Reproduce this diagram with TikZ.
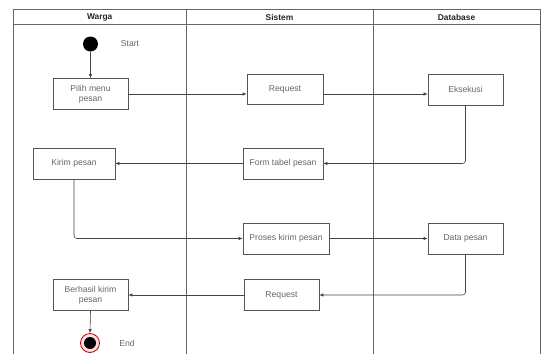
\documentclass[tikz,border=0pt]{standalone}
\usepackage{fontspec}
\setmainfont{Liberation Sans}
\usetikzlibrary{arrows.meta}

\definecolor{lanec}{HTML}{666666}
\definecolor{boxc}{HTML}{555555}
\definecolor{txtc}{HTML}{666666}
\definecolor{linec}{HTML}{444444}

\tikzset{
  lane/.style={draw=lanec, line width=1pt},
  act/.style={draw=boxc, line width=0.7pt, fill=white, text=txtc, font=\fontsize{8.6}{10}\selectfont,
    align=center, inner sep=0pt, minimum height=31pt},
  hdr/.style={font=\bfseries\fontsize{8.4}{10}\selectfont, text=black!85},
  lbl/.style={font=\fontsize{8.6}{10}\selectfont, text=txtc},
  flow/.style={draw=linec, line width=0.6pt, -{Latex[length=4pt,width=3.5pt]}},
}

\begin{document}
\begin{tikzpicture}[x=1pt,y=-1pt]
\useasboundingbox (0,0) rectangle (541,354);

% swimlane frame
\draw[lane] (13.5,354) -- (13.5,9.5) -- (540,9.5) -- (540,354);
\draw[lane] (13.5,24.5) -- (540,24.5);
\draw[lane] (186,9.5) -- (186,354);
\draw[lane] (373,9.5) -- (373,354);

\node[hdr] (hwarga) at (99.7,17.5) {Warga};
\node[hdr] (hsistem) at (279.5,17.5) {Sistem};
\node[hdr] (hdb) at (456.5,17.5) {Database};

% start and end states
\node[circle, fill=black, minimum size=15pt, inner sep=0pt] (start) at (90.5,44) {};
\node[lbl] (startlbl) at (130,44) {Start};

\node[circle, draw=red!75!black, fill=red!12, line width=0.8pt, minimum size=19pt, inner sep=0pt] (end) at (90,343) {};
\node[circle, fill=black, minimum size=12pt, inner sep=0pt] (endin) at (90,343) {};
\node[lbl] (endlbl) at (127,343) {End};

% activities
\node[act, minimum width=75pt] (pilih) at (90.5,94) {Pilih menu\\pesan};
\node[act, minimum width=76pt, minimum height=30pt] (req1) at (285,89) {Request};
\node[act, minimum width=75pt] (eks) at (465.5,89.5) {Eksekusi};
\node[act, minimum width=82pt] (kirim) at (74,163.5) {Kirim pesan};
\node[act, minimum width=80pt] (form) at (283,163.5) {Form tabel pesan};
\node[act, minimum width=86pt] (proses) at (286,238.5) {Proses kirim pesan};
\node[act, minimum width=75pt] (data) at (465.5,238.5) {Data pesan};
\node[act, minimum width=75pt] (req2) at (281.5,295) {Request};
\node[act, minimum width=75pt] (berhasil) at (90.5,295) {Berhasil kirim\\pesan};

% control flow
\draw[flow] (start) -- (pilih.north);
\draw[flow] (pilih.east) -- (pilih.east -| req1.west);
\draw[flow] (req1.east |- pilih.east) -- (pilih.east -| eks.west);
\draw[flow, rounded corners=3pt] (eks.south) |- (form.east);
\draw[flow] (form.west) -- (kirim.east);
\draw[flow, rounded corners=3pt] (kirim.south) |- (proses.west);
\draw[flow] (proses.east) -- (data.west);
\draw[flow, rounded corners=3pt] (data.south) |- (req2.east);
\draw[flow] (req2.west) -- (berhasil.east);
\draw[flow] (berhasil.south) -- (end.north);
\end{tikzpicture}
\end{document}
